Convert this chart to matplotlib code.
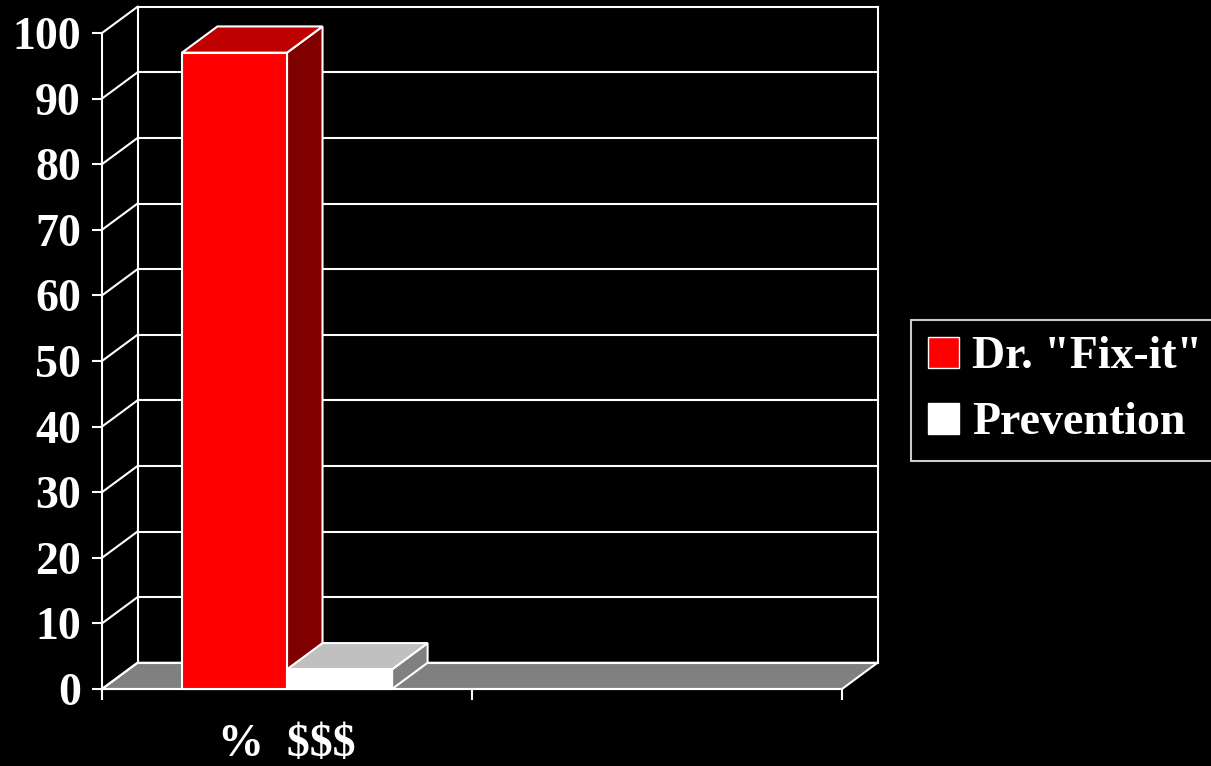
import matplotlib.pyplot as plt
from matplotlib.patches import Polygon, Patch

# chart data
categories = ["%  $$$", ""]
series_names = ['Dr. "Fix-it"', "Prevention"]
series_values = [97, 3]  # values in the first category only
front_colors = ["#FF0000", "#FFFFFF"]
top_colors = ["#BF0000", "#C0C0C0"]
side_colors = ["#800000", "#808080"]
y_ticks = list(range(0, 101, 10))

# pseudo-3D depth offset (x in category units, y in value units)
DX = 0.096
DY = 4.0
BAR_W = 0.284

plt.rcParams["font.family"] = ["Liberation Serif", "DejaVu Serif"]
plt.rcParams["font.weight"] = "bold"

fig = plt.figure(figsize=(12.11, 7.66), dpi=100, facecolor="black")
ax = fig.add_axes([102 / 1211, 77 / 766, 740 / 1211, 656 / 766])
ax.set_facecolor("none")
ax.set_xlim(0, len(categories))
ax.set_ylim(0, 100)

LW = 1.5
n_cat = len(categories)

# floor
ax.add_patch(Polygon([(0, 0), (n_cat, 0), (n_cat + DX, DY), (DX, DY)],
                     closed=True, facecolor="#808080", edgecolor="white",
                     lw=LW, clip_on=False, zorder=1))

# back wall gridlines + diagonals on the side wall
for v in y_ticks:
    ax.plot([DX, n_cat + DX], [v + DY, v + DY], color="white", lw=LW,
            clip_on=False, zorder=1.5)
    ax.plot([0, DX], [v, v + DY], color="white", lw=LW, clip_on=False, zorder=1.5)
for xb in (DX, n_cat + DX):
    ax.plot([xb, xb], [DY, 100 + DY], color="white", lw=LW, clip_on=False, zorder=1.5)

# bars, drawn left to right so the right bar overlaps the left one
group_left = 0.5 - BAR_W * len(series_values) / 2
for i, val in enumerate(series_values):
    x0 = group_left + i * BAR_W
    x1 = x0 + BAR_W
    z = 3 + i
    ax.add_patch(Polygon([(x1, 0), (x1 + DX, DY), (x1 + DX, val + DY), (x1, val)],
                         closed=True, facecolor=side_colors[i], edgecolor="white",
                         lw=LW, clip_on=False, zorder=z))
    ax.add_patch(Polygon([(x0, val), (x1, val), (x1 + DX, val + DY), (x0 + DX, val + DY)],
                         closed=True, facecolor=top_colors[i], edgecolor="white",
                         lw=LW, clip_on=False, zorder=z))
    ax.add_patch(Polygon([(x0, 0), (x1, 0), (x1, val), (x0, val)],
                         closed=True, facecolor=front_colors[i], edgecolor="white",
                         lw=LW, clip_on=False, zorder=z))

# axes styling
for side in ("top", "right"):
    ax.spines[side].set_visible(False)
for side in ("left", "bottom"):
    ax.spines[side].set_color("white")
    ax.spines[side].set_linewidth(LW)
    ax.spines[side].set_zorder(2)

ax.set_yticks(y_ticks)
ax.set_yticklabels([str(t) for t in y_ticks])
ax.tick_params(axis="y", colors="white", direction="out", length=7.2, width=LW,
               pad=8, labelsize=33)

ax.set_xticks(range(n_cat + 1))
ax.set_xticklabels([])
ax.tick_params(axis="x", which="major", colors="white", direction="out",
               length=8, width=LW)
ax.set_xticks([i + 0.5 for i in range(n_cat)], minor=True)
ax.set_xticklabels(categories, minor=True)
ax.tick_params(axis="x", which="minor", length=0, pad=25, labelsize=33,
               labelcolor="white")

handles = [Patch(facecolor=front_colors[i], edgecolor="white", lw=1)
           for i in range(len(series_names))]
leg = fig.legend(handles, series_names, loc="upper left",
                 bbox_to_anchor=(911 / 1211, 1 - 320 / 766), borderaxespad=0,
                 fontsize=33, frameon=True, fancybox=False, facecolor="black",
                 edgecolor="white", handlelength=0.68, handleheight=0.68,
                 handletextpad=0.3, borderpad=0.36, labelspacing=0.52)
leg.get_frame().set_linewidth(LW)
for t in leg.get_texts():
    t.set_color("white")
    t.set_fontweight("bold")

fig.savefig("out.png", dpi=100, facecolor="black")
